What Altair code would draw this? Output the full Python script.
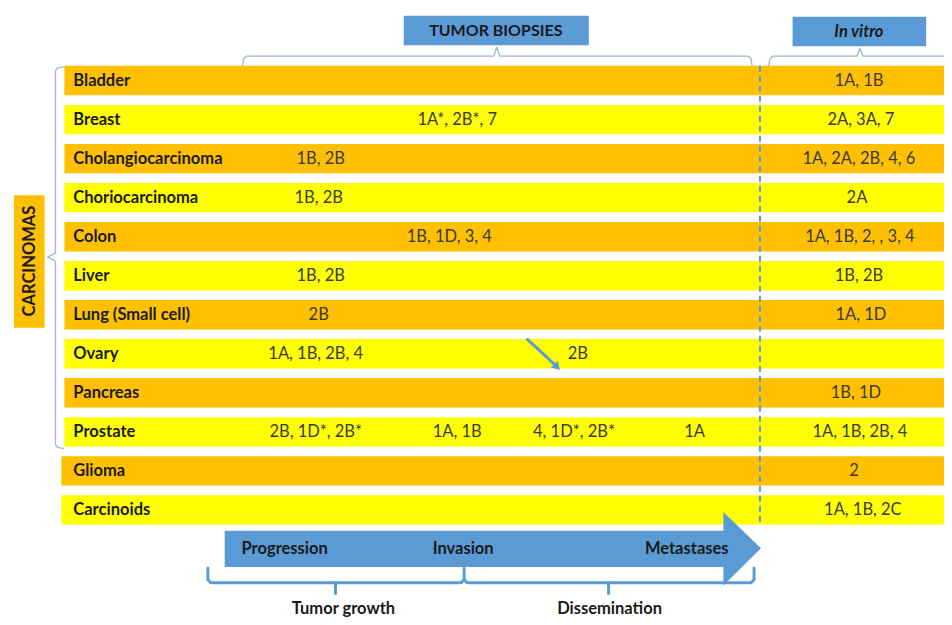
import altair as alt
import pandas as pd

# ---------------- data ----------------
categories = ["Bladder", "Breast", "Cholangiocarcinoma", "Choriocarcinoma", "Colon",
              "Liver", "Lung (Small cell)", "Ovary", "Pancreas", "Prostate",
              "Glioma", "Carcinoids"]
in_vitro = ["1A, 1B", "2A, 3A, 7", "1A, 2A, 2B, 4, 6", "2A", "1A, 1B, 2, , 3, 4",
            "1B, 2B", "1A, 1D", "", "1B, 1D", "1A, 1B, 2B, 4", "2", "1A, 1B, 2C"]
biopsy_category = ["Breast", "Cholangiocarcinoma", "Choriocarcinoma", "Colon", "Liver",
                   "Lung (Small cell)", "Ovary", "Ovary", "Prostate", "Prostate",
                   "Prostate", "Prostate"]
biopsy_labels = ["1A*, 2B*, 7", "1B, 2B", "1B, 2B", "1B, 1D, 3, 4", "1B, 2B", "2B",
                 "1A, 1B, 2B, 4", "2B", "2B, 1D*, 2B*", "1A, 1B", "4, 1D*, 2B*", "1A"]
stages = ["Progression", "Invasion", "Metastases"]
phases = ["Tumor growth", "Dissemination"]

# ---------------- layout (pixel positions of the reference) ----------------
ROW0, STEP, HALF = 78, 39.8, 15
biopsy_x = [460, 322, 320, 452, 322, 320, 317, 582, 317, 460, 578, 700]
vitro_x = [866, 868, 866, 864, 867, 866, 868, 866, 863, 867, 861, 870]
ORANGE, YELLOW, BLUE, THIN = "#FFC000", "#FFFF00", "#5B9BD5", "#9FB6D3"
FONT = "Lato"

X = alt.Scale(domain=[6, 952], nice=False, zero=False)
Y = alt.Scale(domain=[4, 625], nice=False, zero=False, reverse=True)


def row_y(name):
    return ROW0 + STEP * categories.index(name)


def rects(df):
    return alt.Chart(df).mark_rect().encode(
        x=alt.X("x:Q", scale=X, axis=None), x2="x2:Q",
        y=alt.Y("y:Q", scale=Y, axis=None), y2="y2:Q",
        color=alt.Color("fill:N", scale=None))


def lines(pts, color, width):
    rows = []
    for seg, path in enumerate(pts):
        for i, (px, py) in enumerate(path):
            rows.append({"seg": seg, "o": i, "x": px, "y": py})
    return alt.Chart(pd.DataFrame(rows)).mark_line(
        color=color, strokeWidth=width, strokeCap="round", strokeJoin="round").encode(
        x=alt.X("x:Q", scale=X, axis=None), y=alt.Y("y:Q", scale=Y, axis=None),
        detail="seg:N", order="o:Q")


def texts(df, **kw):
    base = dict(font=FONT, fontSize=16.5, baseline="middle")
    base.update(kw)
    return alt.Chart(df).mark_text(**base).encode(
        x=alt.X("x:Q", scale=X, axis=None), y=alt.Y("y:Q", scale=Y, axis=None),
        text="t:N")


# row bars
bars = pd.DataFrame({
    "x": [63 if i < 10 else 60 for i in range(len(categories))],
    "x2": [952] * len(categories),
    "y": [row_y(c) - HALF for c in categories],
    "y2": [row_y(c) + HALF for c in categories],
    "fill": [ORANGE if i % 2 == 0 else YELLOW for i in range(len(categories))],
})
boxes = pd.DataFrame({
    "x": [406, 799, 12, 225], "x2": [593, 934, 43, 731],
    "y": [12, 13, 195, 537], "y2": [42, 43, 330, 574],
    "fill": [BLUE, BLUE, ORANGE, BLUE],
})
head = alt.Chart(pd.DataFrame({"x": [729, 767], "y": [518, 555], "y2": [593, 555]})).mark_area(
    color=BLUE, orient="vertical").encode(
    x=alt.X("x:Q", scale=X, axis=None), y=alt.Y("y:Q", scale=Y, axis=None), y2="y2:Q")

dashed = alt.Chart(pd.DataFrame({"x": [766], "y": [63], "y2": [532]})).mark_rule(
    color=BLUE, strokeWidth=2, strokeDash=[6, 4]).encode(
    x=alt.X("x:Q", scale=X, axis=None), y=alt.Y("y:Q", scale=Y, axis=None), y2="y2:Q")

thin_braces = lines([
    [(243, 63), (244, 56), (247, 53), (497, 53), (500, 44), (503, 53), (754, 53), (757, 56), (758, 63)],
    [(775, 63), (776, 56), (779, 53), (864, 53), (867, 45), (870, 53), (952, 53)],
    [(62, 64), (56, 65), (54, 68), (54, 254), (46, 258), (54, 262), (54, 449), (56, 452), (62, 453)],
], THIN, 1.3)
thick_braces = lines([
    [(208, 575), (208, 587), (211, 590), (464, 590), (467, 587), (467, 575)],
    [(467, 587), (470, 590), (757, 590), (760, 587), (760, 575)],
    [(337, 590), (337, 601)],
    [(613, 590), (613, 601)],
], BLUE, 3)

ovary_arrow = lines([[(531, 342), (558, 367)]], BLUE, 3)
ovary_head = alt.Chart(pd.DataFrame({"x": [561], "y": [370]})).mark_point(
    shape="triangle-up", angle=135, filled=True, opacity=1, size=90, color=BLUE).encode(
    x=alt.X("x:Q", scale=X, axis=None), y=alt.Y("y:Q", scale=Y, axis=None))

DARK, GREY = "#1A1A1A", "#3A3A3A"
cat_text = texts(pd.DataFrame({
    "x": [72] * len(categories), "y": [row_y(c) for c in categories], "t": categories}),
    align="left", fontWeight="bold", color=DARK)
bio_text = texts(pd.DataFrame({
    "x": biopsy_x, "y": [row_y(c) for c in biopsy_category], "t": biopsy_labels}),
    align="center", color=GREY)
vit_text = texts(pd.DataFrame({
    "x": vitro_x, "y": [row_y(c) for c in categories], "t": in_vitro}),
    align="center", color=GREY)
head_text = texts(pd.DataFrame({"x": [499], "y": [27], "t": ["TUMOR BIOPSIES"]}),
                  align="center", fontWeight="bold", color=DARK, fontSize=16)
vitro_head = texts(pd.DataFrame({"x": [866], "y": [28], "t": ["In vitro"]}),
                   align="center", fontWeight="bold", fontStyle="italic", color=DARK)
carc = texts(pd.DataFrame({"x": [28], "y": [262], "t": ["CARCINOMAS"]}),
             align="center", fontWeight="bold", color=DARK, angle=270)
prog = texts(pd.DataFrame({"x": [242], "y": [556], "t": [stages[0]]}),
             align="left", fontWeight="bold", color=DARK)
stage_text = texts(pd.DataFrame({"x": [466, 692], "y": [556, 556], "t": stages[1:]}),
                   align="center", fontWeight="bold", color=DARK)
phase_text = texts(pd.DataFrame({"x": [345, 614], "y": [617, 617], "t": phases}),
                   align="center", fontWeight="bold", color=DARK)

chart = alt.layer(
    rects(bars), rects(boxes), head, dashed, thin_braces, thick_braces,
    ovary_arrow, ovary_head, cat_text, bio_text, vit_text, head_text, vitro_head,
    carc, prog, stage_text, phase_text,
).properties(
    width=936, height=609, padding=0, autosize="none", background="white"
).configure_view(stroke=None)

chart.save("out.html", embed_options={"renderer": "svg", "actions": False})
